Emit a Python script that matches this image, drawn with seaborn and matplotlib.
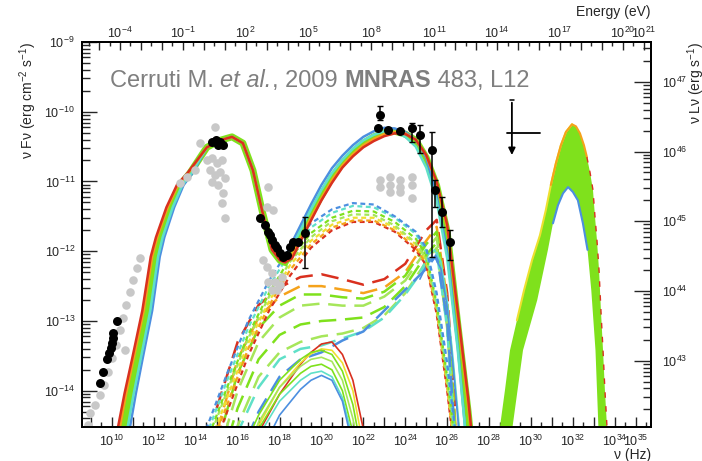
import numpy as np
import matplotlib
matplotlib.use("Agg")
import matplotlib.pyplot as plt
import seaborn as sns
from matplotlib.ticker import FixedLocator, FuncFormatter, NullFormatter, LogLocator

# ---------------- data: log10(nu / Hz), log10(nu F_nu / erg cm-2 s-1) ----------------
# observed points (black)
radio_lognu = [9.43, 9.57, 9.76, 9.86, 9.95, 10.00, 10.05, 10.05, 10.24]
radio_logf = [-13.89, -13.73, -13.55, -13.46, -13.39, -13.32, -13.25, -13.17, -13.00]
opt_lognu = [14.78, 14.97, 15.06, 15.16, 15.30]
opt_logf = [-10.43, -10.41, -10.48, -10.43, -10.48]
xray_lognu = [17.06, 17.30, 17.45, 17.54, 17.64, 17.78, 17.88, 18.02, 18.16, 18.35, 18.50, 18.64, 18.88]
xray_logf = [-11.53, -11.63, -11.73, -11.77, -11.84, -11.91, -11.96, -12.03, -12.08, -12.06, -11.94, -11.87, -11.87]
hardx_lognu = [19.21]
hardx_logf = [-11.74]
hardx_hi = [-11.51]
hardx_lo = [-12.24]
gamma_lognu = [22.70, 22.79, 23.17, 23.75, 24.32, 24.70, 25.27, 25.42, 25.75, 26.13]
gamma_logf = [-10.23, -10.05, -10.26, -10.28, -10.23, -10.33, -10.55, -11.12, -11.44, -11.87]
gamma_hi = [-10.23, -9.92, -10.26, -10.28, -10.16, -10.19, -10.29, -10.98, -11.22, -11.70]
gamma_lo = [-10.23, -10.12, -10.26, -10.28, -10.43, -10.59, -12.08, -11.37, -11.65, -12.13]
ul_lognu, ul_logf = 29.09, -10.31
ul_nu_lo, ul_nu_hi = 28.85, 30.43
ul_f_top, ul_f_bottom = -9.83, -10.66

# archival points (grey)
grey_lognu = [8.85, 8.95, 9.19, 9.43, 9.62, 9.81, 10.00, 10.19, 10.38, 10.53, 10.67, 10.86, 11.00,
              11.19, 11.34, 10.62,
              14.92, 14.20, 13.96, 13.25, 13.58, 14.54, 14.78, 15.01, 15.25, 14.68, 14.92, 15.16,
              15.40, 14.78, 15.06, 15.30, 15.25, 15.40,
              17.45, 17.40, 17.69, 17.21, 17.40, 17.64, 17.45, 17.78, 18.02, 17.88, 18.12, 17.64]
grey_logf = [-14.49, -14.32, -14.21, -14.06, -13.92, -13.73, -13.53, -13.35, -13.13, -12.96, -12.77,
             -12.59, -12.41, -12.24, -12.10, -13.42,
             -10.22, -10.45, -10.84, -11.02, -10.94, -10.69, -10.66, -10.74, -10.69, -10.84, -10.91,
             -10.87, -10.95, -11.01, -11.05, -11.17, -11.31, -11.53,
             -11.08, -11.37, -11.41, -12.13, -12.23, -12.31, -12.44, -12.44, -12.49, -12.56, -12.37, -12.56]
grey_gamma_lognu = [22.79, 22.79, 23.27, 23.27, 23.27, 23.75, 23.75, 23.75, 24.32, 24.32, 24.32]
grey_gamma_logf = [-10.98, -11.08, -10.94, -11.05, -11.15, -10.98, -11.08, -11.15, -10.94, -11.05, -11.24]

# ---------------- model curves ----------------
colors = {"red": "#d9301f", "orange": "#f5a21b", "yellow": "#eee030", "green": "#7fe11c",
          "lgreen": "#a6e65a", "cyan": "#5fe0c8", "blue": "#4c8fe0"}

# total SED: low-frequency edge, common synchrotron peak, inverse-Compton part
low_logf = [-14.52, -14.04, -13.56, -12.85, -12.08, -11.80, -11.37, -11.05, -10.88]
low_lognu = {
    "red": [10.29, 10.60, 10.95, 11.45, 11.85, 12.10, 12.60, 13.10, 13.60],
    "orange": [10.38, 10.68, 11.02, 11.52, 11.92, 12.16, 12.66, 13.15, 13.64],
    "green": [10.57, 10.86, 11.19, 11.67, 12.05, 12.29, 12.77, 13.25, 13.72],
    "cyan": [10.75, 11.04, 11.36, 11.83, 12.20, 12.42, 12.90, 13.36, 13.80],
    "blue": [10.86, 11.14, 11.45, 11.92, 12.28, 12.50, 12.97, 13.42, 13.85],
}
peak_lognu = [14.53, 15.16, 15.73, 16.25, 16.73, 17.16, 17.64, 18.02]
peak_logf = [-10.51, -10.41, -10.36, -10.45, -10.84, -11.41, -11.98, -12.13]
ic_lognu = [18.26, 18.6, 19.0, 19.5, 20.0, 20.5, 21.0, 21.5, 22.0, 22.5, 23.0, 23.5, 24.0, 24.5,
            25.0, 25.5, 26.0, 26.5, 27.0, 27.3]
ic_logf = {
    "red": [-12.16, -12.10, -11.86, -11.56, -11.27, -11.02, -10.80, -10.64, -10.51, -10.42, -10.35,
            -10.31, -10.32, -10.40, -10.62, -11.00, -11.62, -12.85, -14.10, -15.0],
    "orange": [-12.16, -12.05, -11.82, -11.52, -11.24, -10.98, -10.77, -10.61, -10.48, -10.39, -10.32,
               -10.29, -10.31, -10.40, -10.63, -11.02, -11.66, -12.92, -14.20, -15.1],
    "green": [-12.16, -12.00, -11.76, -11.47, -11.20, -10.94, -10.74, -10.58, -10.45, -10.36, -10.30,
              -10.28, -10.32, -10.41, -10.66, -11.06, -11.72, -13.03, -14.30, -15.2],
    "cyan": [-12.16, -11.93, -11.70, -11.40, -11.12, -10.88, -10.69, -10.53, -10.41, -10.33, -10.28,
             -10.29, -10.36, -10.50, -10.80, -11.28, -12.10, -13.40, -15.0, -15.6],
    "blue": [-12.16, -11.87, -11.63, -11.33, -11.05, -10.81, -10.63, -10.48, -10.36, -10.28, -10.23,
             -10.24, -10.29, -10.40, -10.66, -11.21, -12.00, -13.35, -15.0, -15.6],
}

# SSC components (short dashes)
ssc_lognu = [14.5, 15.5, 16.5, 17.5, 18.5, 19.5, 20.5, 21.5, 22.5, 23.5, 24.5, 25.0, 25.5, 26.0, 26.4]
ssc_logf = {
    "blue": [-14.55, -13.75, -13.00, -12.42, -11.95, -11.60, -11.40, -11.31, -11.33, -11.50, -11.72,
             -11.95, -12.60, -13.60, -14.60],
    "cyan": [-14.65, -13.85, -13.10, -12.50, -12.02, -11.66, -11.45, -11.35, -11.37, -11.52, -11.75,
             -12.00, -12.70, -13.70, -14.70],
    "green": [-14.75, -13.95, -13.20, -12.60, -12.10, -11.74, -11.52, -11.42, -11.43, -11.58, -11.82,
              -12.05, -12.75, -13.80, -14.80],
    "lgreen": [-14.80, -14.00, -13.25, -12.65, -12.15, -11.80, -11.57, -11.47, -11.48, -11.63, -11.88,
               -12.10, -12.80, -13.85, -14.85],
    "yellow": [-14.90, -14.10, -13.32, -12.72, -12.20, -11.85, -11.62, -11.52, -11.52, -11.66, -11.90,
               -12.12, -12.80, -13.90, -14.90],
    "orange": [-15.00, -14.20, -13.40, -12.78, -12.27, -11.90, -11.66, -11.56, -11.56, -11.70, -11.95,
               -12.18, -12.85, -13.95, -15.00],
    "red": [-15.10, -14.30, -13.50, -12.85, -12.35, -11.95, -11.70, -11.58, -11.58, -11.72, -11.98,
            -12.20, -12.90, -14.00, -15.00],
}

# hadronic / cascade components (long dashes)
had_lognu = [15.0, 16.0, 17.0, 18.0, 19.0, 20.0, 21.0, 22.0, 23.0, 24.0, 25.0, 25.5, 26.0, 26.4]
had_logf = [
    ("red", [-14.25, -13.30, -12.77, -12.52, -12.37, -12.33, -12.40, -12.48, -12.40, -12.18, -11.70,
             -11.55, -12.60, -14.30]),
    ("orange", [-14.60, -13.55, -12.95, -12.65, -12.50, -12.50, -12.55, -12.60, -12.52, -12.30, -11.85,
                -11.65, -12.70, -14.50]),
    ("green", [-14.80, -13.75, -13.10, -12.78, -12.62, -12.62, -12.66, -12.68, -12.58, -12.35, -11.90,
               -11.72, -12.80, -14.60]),
    ("lgreen", [-15.00, -14.00, -13.30, -12.95, -12.78, -12.75, -12.78, -12.78, -12.65, -12.42, -11.98,
                -11.80, -12.90, -14.70]),
    ("green", [-15.20, -14.25, -13.55, -13.20, -13.05, -13.00, -12.98, -12.95, -12.80, -12.50, -12.05,
               -11.88, -13.00, -14.80]),
    ("lgreen", [-15.50, -14.50, -13.80, -13.45, -13.30, -13.22, -13.18, -13.10, -12.92, -12.60, -12.15,
                -11.95, -13.10, -14.90]),
    ("cyan", [-15.60, -14.60, -13.95, -13.55, -13.40, -13.35, -13.25, -13.15, -12.95, -12.62, -12.20,
              -12.00, -13.10, -14.90]),
    ("blue", [-16.00, -15.00, -14.30, -13.80, -13.55, -13.45, -13.28, -13.15, -12.85, -12.55, -12.25,
              -12.05, -13.00, -14.80]),
]

# thin solid components peaking near 1e20 Hz
thin_lognu = [16.0, 17.0, 18.0, 19.0, 19.5, 20.0, 20.5, 21.0, 21.5, 22.0]
thin_logf = [
    ("red", [-15.50, -14.60, -14.05, -13.62, -13.45, -13.33, -13.30, -13.48, -13.85, -14.55]),
    ("yellow", [-15.30, -14.50, -13.95, -13.60, -13.47, -13.40, -13.42, -13.60, -14.00, -14.80]),
    ("green", [-15.00, -14.35, -13.85, -13.55, -13.45, -13.42, -13.48, -13.72, -14.20, -15.00]),
    ("lgreen", [-15.20, -14.45, -13.95, -13.65, -13.55, -13.52, -13.58, -13.85, -14.40, -15.20]),
    ("green", [-15.30, -14.55, -14.05, -13.75, -13.65, -13.62, -13.70, -14.00, -14.60, -15.40]),
    ("cyan", [-15.40, -14.65, -14.15, -13.85, -13.75, -13.72, -13.80, -14.10, -14.70, -15.50]),
    ("blue", [-15.80, -14.95, -14.35, -13.98, -13.85, -13.78, -13.85, -14.15, -14.80, -15.60]),
]
# thin solid components near 1e25 Hz
thin2_lognu = [24.7, 25.1, 25.4, 25.7, 26.0, 26.3, 26.6]
thin2_logf = [
    ("cyan", [-12.30, -12.05, -11.98, -12.15, -12.70, -13.60, -14.60]),
    ("blue", [-12.40, -12.15, -12.08, -12.25, -12.80, -13.70, -14.70]),
]

# UHE cascade bump: outer envelope (left to right) and inner envelope (right to left)
casc_out_lognu = [28.52, 28.76, 29.00, 29.33, 29.67, 30.05, 30.43, 30.71, 30.95, 31.19, 31.43, 31.67,
                  31.96, 32.15, 32.34, 32.53, 32.67, 32.82, 32.96, 33.05, 33.15, 33.25, 33.34, 33.44,
                  33.53, 33.63]
casc_out_logf = [-14.52, -13.99, -13.42, -12.99, -12.56, -12.13, -11.77, -11.41, -11.05, -10.74,
                 -10.48, -10.29, -10.18, -10.21, -10.31, -10.48, -10.65, -10.87, -11.12, -11.48,
                 -11.84, -12.27, -12.85, -13.42, -13.99, -14.52]
casc_in_lognu = [33.22, 33.08, 32.88, 32.70, 32.48, 32.24, 32.00, 31.77, 31.53, 31.29, 31.05, 30.81,
                 30.30, 29.62, 29.12]
casc_in_logf = [-14.52, -13.42, -12.56, -11.98, -11.60, -11.27, -11.15, -11.08, -11.17, -11.34, -11.60,
                -11.98, -12.70, -13.42, -14.52]

# axes
lognu_min, lognu_max = 8.57, 35.73
logf_min, logf_max = -14.52, -9.0
log_h_ev = -14.383        # log10(h) in eV s
log_4pi_d2 = 56.57        # nuLnu / nuFnu

# reference label, in pieces (text, style, weight)
ref_parts = [("Cerruti M. ", "normal", "normal"), ("et al.", "italic", "normal"),
             (", 2009 ", "normal", "normal"), ("MNRAS", "normal", "bold"),
             (" 483, L12", "normal", "normal")]

# ---------------- plotting ----------------
sns.set_style("ticks")
plt.rcParams['font.family'] = ['Liberation Sans', 'DejaVu Sans']
plt.rcParams['mathtext.fontset'] = 'custom'
plt.rcParams['mathtext.rm'] = 'Liberation Sans'
plt.rcParams['mathtext.it'] = 'Liberation Sans:italic'
plt.rcParams['mathtext.bf'] = 'Liberation Sans:bold'

fig = plt.figure(figsize=(7.02, 4.61), dpi=100)
ax = fig.add_axes([82 / 702, 34 / 461, 569 / 702, 385 / 461])


def curve(lognu, logf, color, lw=1.5, ls="-", z=2):
    sns.lineplot(x=10 ** np.asarray(lognu), y=10 ** np.asarray(logf), ax=ax, color=color,
                 lw=lw, linestyle=ls, sort=False, estimator=None, zorder=z)


# long dashes, thin solid, short dashes
for c, lf in had_logf:
    curve(had_lognu, lf, colors[c], 1.8, (0, (7, 3.5)))
for c, lf in thin_logf:
    curve(thin_lognu, lf, colors[c], 1.2)
for c, lf in thin2_logf:
    curve(thin2_lognu, lf, colors[c], 1.2)
for c in ["red", "orange", "yellow", "lgreen", "green", "cyan", "blue"]:
    curve(ssc_lognu, ssc_logf[c], colors[c], 1.6, (0, (2.2, 1.6)))

# total model
for c in ["green", "blue", "cyan", "orange", "red"]:
    x = low_lognu[c] + peak_lognu + ic_lognu
    y = low_logf + peak_logf + ic_logf[c]
    curve(x, y, colors[c], 5.0 if c == "green" else 1.8, z=3)

# cascade bump
ax.fill(10 ** np.array(casc_out_lognu + casc_in_lognu), 10 ** np.array(casc_out_logf + casc_in_logf),
        color=colors["green"], lw=0, zorder=3)
curve(casc_out_lognu[3:13], casc_out_logf[3:13], colors["yellow"], 1.5, z=3)
curve(casc_out_lognu[8:17], casc_out_logf[8:17], colors["orange"], 1.5, z=3)
curve(casc_out_lognu[16:], casc_out_logf[16:], colors["red"], 1.0, (0, (4, 6)), z=3)
curve(casc_in_lognu[3:11], casc_in_logf[3:11], colors["blue"], 1.5, z=3)

# data
sns.scatterplot(x=10 ** np.array(grey_lognu), y=10 ** np.array(grey_logf), ax=ax, color="#c8c8c8",
                s=38, linewidth=0, zorder=4)
gx = 10 ** np.array(grey_gamma_lognu)
gy = 10 ** np.array(grey_gamma_logf)
ax.errorbar(gx, gy, yerr=[gy * (1 - 10 ** -0.04), gy * (10 ** 0.04 - 1)], fmt="none",
            ecolor="#c8c8c8", lw=1, zorder=4)
sns.scatterplot(x=gx, y=gy, ax=ax, color="#c8c8c8", s=38, linewidth=0, zorder=4)

black_lognu = radio_lognu + opt_lognu + xray_lognu + hardx_lognu + gamma_lognu
black_logf = radio_logf + opt_logf + xray_logf + hardx_logf + gamma_logf
sns.scatterplot(x=10 ** np.array(black_lognu), y=10 ** np.array(black_logf), ax=ax, color="black",
                s=42, linewidth=0, zorder=6)
ex = 10 ** np.array(hardx_lognu + gamma_lognu)
ey = 10 ** np.array(hardx_logf + gamma_logf)
ehi = 10 ** np.array(hardx_hi + gamma_hi)
elo = 10 ** np.array(hardx_lo + gamma_lo)
ax.errorbar(ex, ey, yerr=[ey - elo, ehi - ey], fmt="none", ecolor="black", lw=1.1, capsize=2.5,
            zorder=6)

# upper limit
ax.plot([10 ** ul_nu_lo, 10 ** ul_nu_hi], [10 ** ul_logf] * 2, color="black", lw=1.3, zorder=6)
ax.annotate("", xy=(10 ** ul_lognu, 10 ** ul_f_bottom), xytext=(10 ** ul_lognu, 10 ** ul_f_top),
            arrowprops=dict(arrowstyle="-|>", color="black", lw=1.3, mutation_scale=10), zorder=6)
ax.plot([10 ** ul_lognu * 0.8, 10 ** ul_lognu * 1.25], [10 ** ul_f_top] * 2, color="black", lw=1.1)

ax.set_xscale("log")
ax.set_yscale("log")
ax.set_xlim(10 ** lognu_min, 10 ** lognu_max)
ax.set_ylim(10 ** logf_min, 10 ** logf_max)

# bottom axis
ax.xaxis.set_major_locator(FixedLocator(10.0 ** np.arange(9, 36)))
ax.xaxis.set_minor_locator(FixedLocator(10.0 ** (np.arange(8, 36) + 0.5)))
ax.xaxis.set_major_formatter(FuncFormatter(
    lambda v, p: r"$10^{%d}$" % round(np.log10(v)) if (round(np.log10(v)) % 2 == 0 or round(np.log10(v)) == 35) else ""))
ax.xaxis.set_minor_formatter(NullFormatter())
ax.yaxis.set_major_locator(LogLocator(base=10, numticks=20))
ax.yaxis.set_minor_locator(LogLocator(base=10, subs=np.arange(2, 10), numticks=20))
ax.yaxis.set_minor_formatter(NullFormatter())
ax.tick_params(axis="x", which="major", direction="in", length=7, width=1, labelsize=9, pad=5,
               top=False)
ax.tick_params(axis="x", which="minor", direction="in", length=3.5, width=1, top=False)
ax.tick_params(axis="y", which="major", direction="in", length=11, width=1, labelsize=9, pad=5,
               right=False)
ax.tick_params(axis="y", which="minor", direction="in", length=6, width=1, right=False)
ax.set_xlabel("")
ax.set_ylabel("")

# top energy axis
axt = ax.twiny()
axt.set_xscale("log")
axt.set_xlim(10 ** (lognu_min + log_h_ev), 10 ** (lognu_max + log_h_ev))
axt.xaxis.set_major_locator(FixedLocator(10.0 ** np.arange(-6, 22)))
axt.xaxis.set_minor_locator(FixedLocator(10.0 ** (np.arange(-6, 21) + 0.5)))
axt.xaxis.set_major_formatter(FuncFormatter(
    lambda v, p: r"$10^{%d}$" % round(np.log10(v)) if (round(np.log10(v)) % 3 == 2 or round(np.log10(v)) == 21) else ""))
axt.xaxis.set_minor_formatter(NullFormatter())
axt.tick_params(axis="x", which="major", direction="in", length=6, width=1, labelsize=9, pad=1)
axt.tick_params(axis="x", which="minor", direction="in", length=3, width=1)

# right luminosity axis
axr = ax.twinx()
axr.set_yscale("log")
axr.set_ylim(10 ** (logf_min + log_4pi_d2), 10 ** (logf_max + log_4pi_d2))
axr.yaxis.set_major_locator(LogLocator(base=10, numticks=20))
axr.yaxis.set_minor_locator(LogLocator(base=10, subs=np.arange(2, 10), numticks=20))
axr.yaxis.set_minor_formatter(NullFormatter())
axr.tick_params(axis="y", which="major", direction="in", length=12, width=1, labelsize=9, pad=8)
axr.tick_params(axis="y", which="minor", direction="in", length=6, width=1)

for a in (ax, axt, axr):
    for s in a.spines.values():
        s.set_linewidth(1.2)
        s.set_color("black")

# titles
fig.text(28 / 702, 1 - 42 / 461, r"ν Fν (erg cm$^{-2}$ s$^{-1}$)", rotation=90, ha="center",
         va="top", fontsize=10)
fig.text(696 / 702, 1 - 42 / 461, r"ν Lν (erg s$^{-1}$)", rotation=90, ha="center", va="top",
         fontsize=10)
fig.text(651 / 702, 1 - 5 / 461, "Energy (eV)", ha="right", va="top", fontsize=10)
fig.text(651 / 702, 1 - 448 / 461, "ν (Hz)", ha="right", va="top", fontsize=10)

# reference label, pieces chained one after the other
prev = None
for txt, style, weight in ref_parts:
    if prev is None:
        prev = ax.text(0.049, 0.882, txt, transform=ax.transAxes, ha="left", va="baseline",
                       fontsize=17, color="#7f7f7f", style=style, weight=weight, zorder=7)
    else:
        prev = ax.annotate(txt, xy=(1, 0), xycoords=prev, ha="left", va="bottom",
                           fontsize=17, color="#7f7f7f", style=style, weight=weight, zorder=7)

fig.savefig("out.png", dpi=100)
